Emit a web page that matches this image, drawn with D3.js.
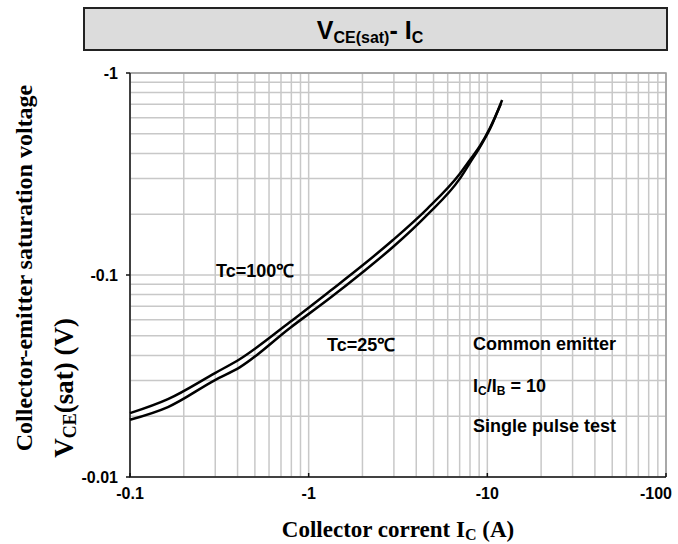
<!DOCTYPE html>
<html>
<head>
<meta charset="utf-8">
<script src="https://cdn.jsdelivr.net/npm/d3@7"></script>
<style>
  body { margin: 0; background: #fff; }
  svg { display: block; }
  .sans { font-family: "Liberation Sans", Arial, sans-serif; font-weight: bold; }
  .serif { font-family: "Liberation Serif", "Times New Roman", serif; font-weight: bold; }
</style>
</head>
<body>
<svg id="chart" width="678" height="544"></svg>
<script>
// collector current (A) and VCE(sat) (V)
var ic100 = [-0.1, -0.163, -0.299, -0.413, -0.786, -1.316, -2.013, -2.963, -4.592, -7.0, -7.99, -9.09, -10.34, -11.9];
var vce100 = [-0.0207, -0.0243, -0.0327, -0.0384, -0.0585, -0.0833, -0.112, -0.149, -0.212, -0.316, -0.371, -0.435, -0.534, -0.702];
var ic25 = [-0.1, -0.163, -0.299, -0.413, -0.786, -1.316, -2.013, -2.963, -4.592, -7.0, -7.99, -9.09, -10.34, -12.1];
var vce25 = [-0.0192, -0.0222, -0.0302, -0.0350, -0.0547, -0.0769, -0.1035, -0.1376, -0.198, -0.299, -0.359, -0.430, -0.528, -0.735];
var xTicks = [-0.1, -1, -10, -100];
var yTicks = [-0.01, -0.1, -1];

var pLeft = 130, pRight = 666, pTop = 73, pBottom = 477;
var svg = d3.select("#chart");

var x = d3.scaleLog().domain([-0.1, -100]).range([pLeft, pRight]);
var y = d3.scaleLog().domain([-0.01, -1]).range([pBottom, pTop]);

// title box
svg.append("rect")
    .attr("x", 84).attr("y", 8)
    .attr("width", 583).attr("height", 42)
    .attr("fill", "#dcdcdc")
    .attr("stroke", "#222").attr("stroke-width", 2);

var title = svg.append("text")
    .attr("class", "sans")
    .attr("x", 370).attr("y", 39)
    .attr("text-anchor", "middle")
    .attr("font-size", 25);
title.append("tspan").text("V");
title.append("tspan").attr("font-size", 16).attr("dy", 4).text("CE(sat)");
title.append("tspan").attr("dy", -4).text("- I");
title.append("tspan").attr("font-size", 16).attr("dy", 4).text("C");

// grid
var g = svg.append("g");
g.selectAll(".gx")
    .data(x.ticks())
    .enter().append("line")
    .attr("x1", function(d) { return x(d); })
    .attr("x2", function(d) { return x(d); })
    .attr("y1", pTop).attr("y2", pBottom)
    .attr("stroke", "#c8c8c8").attr("stroke-width", 1.5);

g.selectAll(".gy")
    .data(y.ticks())
    .enter().append("line")
    .attr("y1", function(d) { return y(d); })
    .attr("y2", function(d) { return y(d); })
    .attr("x1", pLeft).attr("x2", pRight)
    .attr("stroke", "#c8c8c8").attr("stroke-width", 1.5);

// frame: gray top/right, black left/bottom
svg.append("path")
    .attr("d", "M" + pLeft + "," + pTop + "H" + pRight + "V" + pBottom)
    .attr("fill", "none").attr("stroke", "#999").attr("stroke-width", 1.5);
svg.append("path")
    .attr("d", "M" + pLeft + "," + pTop + "V" + pBottom + "H" + pRight)
    .attr("fill", "none").attr("stroke", "#111").attr("stroke-width", 1.5);

// major ticks
svg.selectAll(".tx")
    .data(xTicks)
    .enter().append("line")
    .attr("x1", function(d) { return x(d); })
    .attr("x2", function(d) { return x(d); })
    .attr("y1", pBottom).attr("y2", pBottom - 4)
    .attr("stroke", "#111").attr("stroke-width", 1.5);
svg.selectAll(".ty")
    .data(yTicks)
    .enter().append("line")
    .attr("y1", function(d) { return y(d); })
    .attr("y2", function(d) { return y(d); })
    .attr("x1", pLeft).attr("x2", pLeft - 4)
    .attr("stroke", "#111").attr("stroke-width", 1.5);

// tick labels
svg.selectAll(".lx")
    .data(xTicks)
    .enter().append("text")
    .attr("class", "sans")
    .attr("x", function(d, i) { return x(d) + (i === 3 ? -10 : 0); })
    .attr("y", 499)
    .attr("text-anchor", "middle")
    .attr("font-size", 16)
    .text(function(d) { return d; });

svg.selectAll(".ly")
    .data(yTicks)
    .enter().append("text")
    .attr("class", "sans")
    .attr("x", 118)
    .attr("y", function(d) { return y(d) + 6; })
    .attr("text-anchor", "end")
    .attr("font-size", 16)
    .text(function(d) { return d; });

// curves
var line = d3.line()
    .x(function(d) { return x(d[0]); })
    .y(function(d) { return y(d[1]); })
    .curve(d3.curveMonotoneX);

[[ic100, vce100], [ic25, vce25]].forEach(function(s) {
  svg.append("path")
      .datum(d3.zip(s[0], s[1]))
      .attr("d", line)
      .attr("fill", "none")
      .attr("stroke", "#000")
      .attr("stroke-width", 2.5);
});

// annotations
function note(tx, ty, str) {
  return svg.append("text").attr("class", "sans")
      .attr("x", tx).attr("y", ty).attr("font-size", 18).text(str);
}
note(216, 277, "Tc=100\u2103");
note(327, 351, "Tc=25\u2103");
note(473, 350, "Common emitter");
var r = note(473, 392, "I");
r.append("tspan").attr("font-size", 12).attr("dy", 3).text("C");
r.append("tspan").attr("dy", -3).text("/I");
r.append("tspan").attr("font-size", 12).attr("dy", 3).text("B");
r.append("tspan").attr("dy", -3).text(" = 10");
note(473, 432, "Single pulse test");

// axis titles
var xt = svg.append("text").attr("class", "serif")
    .attr("x", 398).attr("y", 537)
    .attr("text-anchor", "middle").attr("font-size", 23);
xt.append("tspan").text("Collector corrent I");
xt.append("tspan").attr("font-size", 16).attr("dy", 3).text("C");
xt.append("tspan").attr("dy", -3).text(" (A)");

svg.append("text").attr("class", "serif")
    .attr("transform", "translate(32,268) rotate(-90)")
    .attr("text-anchor", "middle").attr("font-size", 24)
    .text("Collector-emitter saturation voltage");

var yt = svg.append("text").attr("class", "serif")
    .attr("transform", "translate(73,388) rotate(-90)")
    .attr("text-anchor", "middle").attr("font-size", 27);
yt.append("tspan").text("V");
yt.append("tspan").attr("font-size", 18).attr("dy", 3).text("CE");
yt.append("tspan").attr("dy", -3).text("(sat) (V)");
</script>
</body>
</html>
